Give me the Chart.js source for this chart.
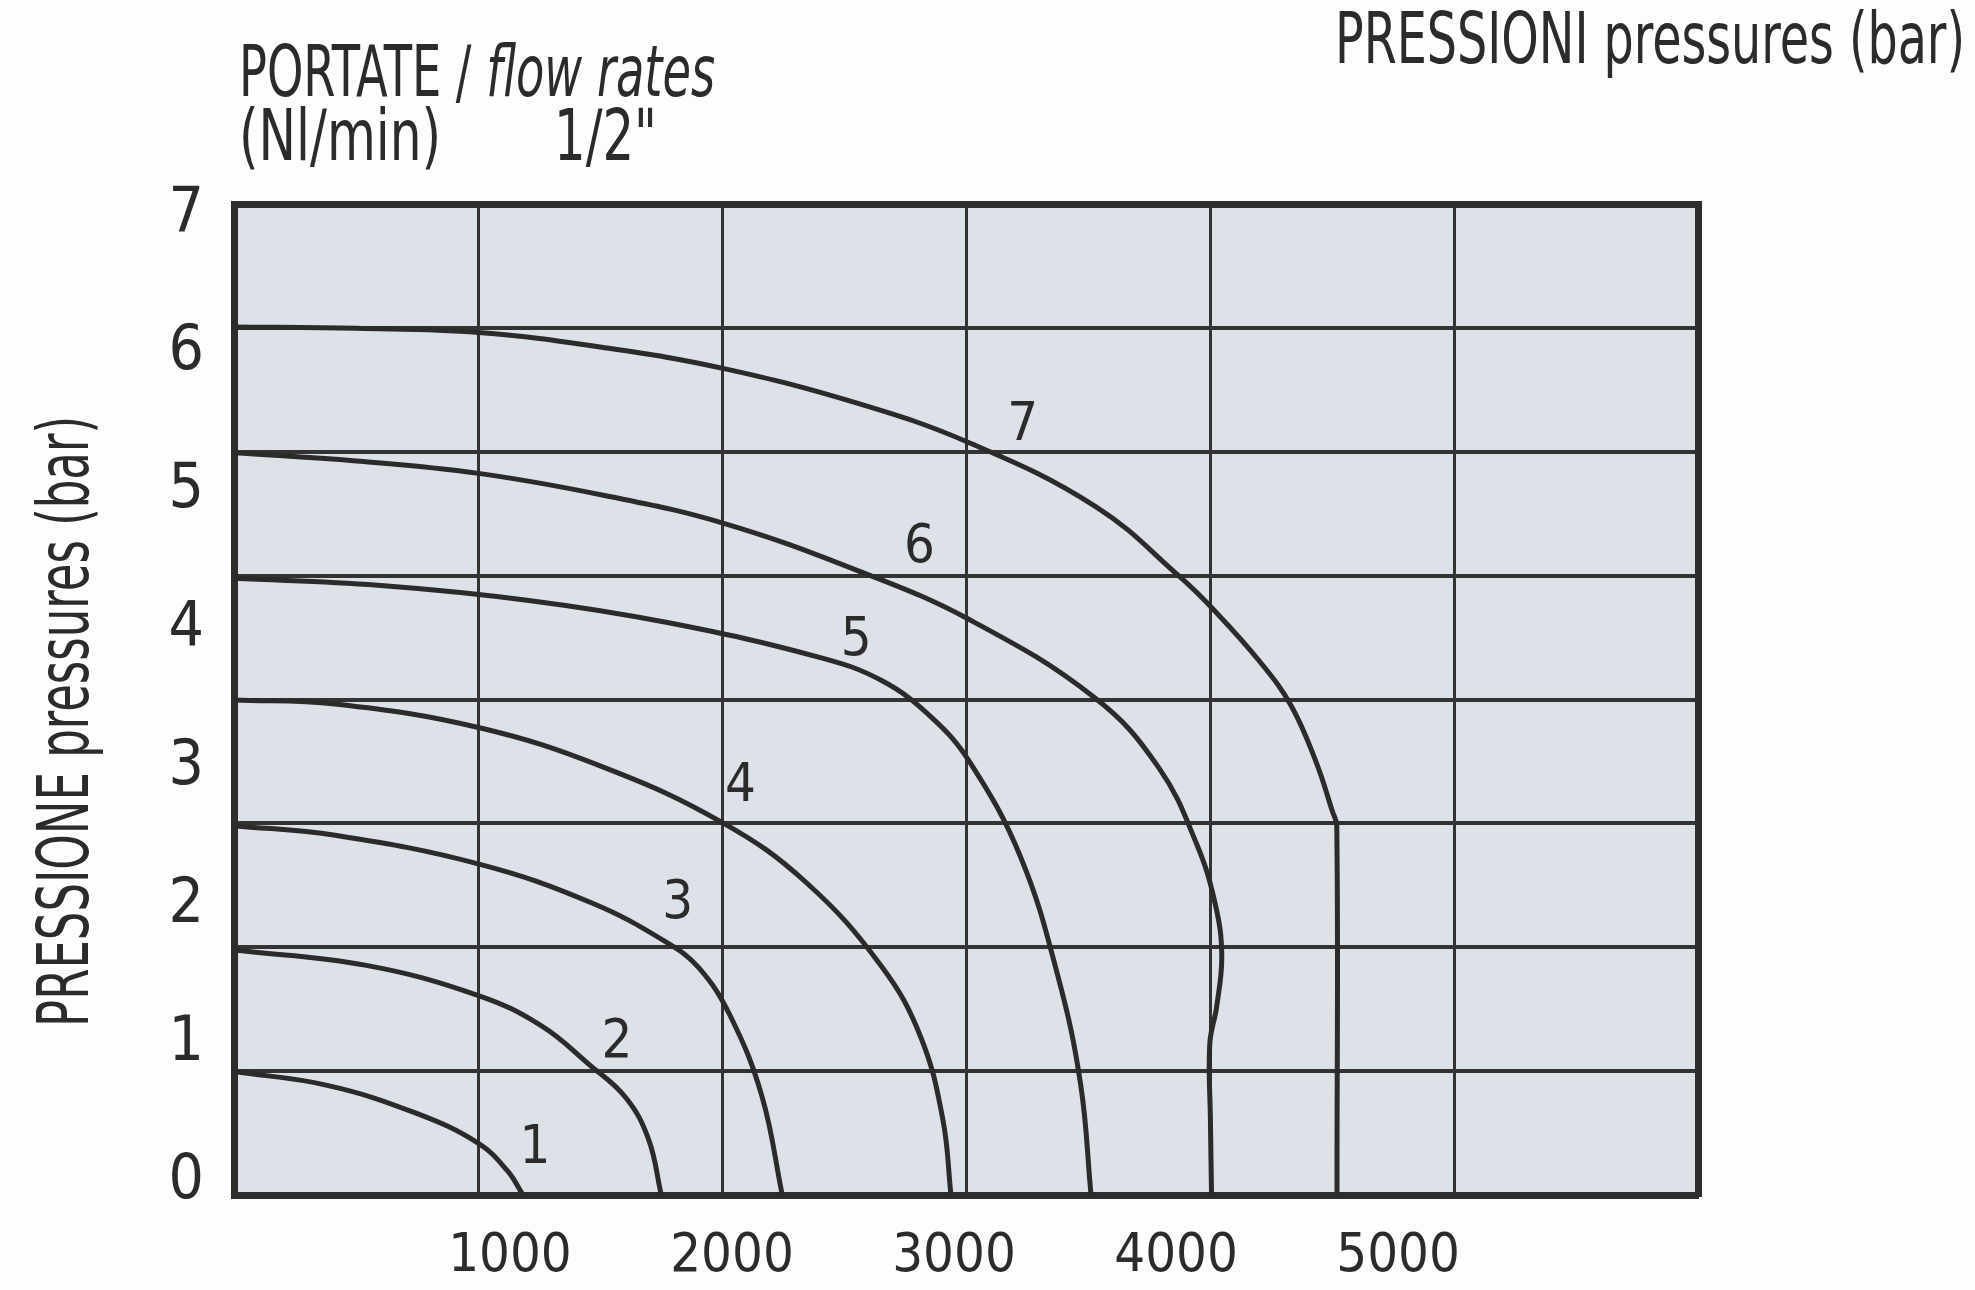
<!DOCTYPE html>
<html>
<head>
<meta charset="utf-8">
<title>PORTATE / flow rates 1/2"</title>
<script src="https://cdn.jsdelivr.net/npm/chart.js@4.4.1/dist/chart.umd.min.js"></script>
<style>
  html, body { margin: 0; padding: 0; background: #fdfdfd; }
  #wrap { position: relative; width: 1975px; height: 1290px; }
</style>
</head>
<body>
<div id="wrap"><canvas id="flowChart" width="1975" height="1290"></canvas></div>
<script>
// tick labels as printed on the sheet
const flowTicks = [1000, 2000, 3000, 4000, 5000];      // Nl/min
const pressureTicks = [0, 1, 2, 3, 4, 5, 6, 7];        // bar
const curveNames = ['1', '2', '3', '4', '5', '6', '7']; // inlet pressure (bar)

// curves: flow (Nl/min) -> outlet pressure (bar)
const flow1 = [-243, 177, 574, 858, 989, 1057];
const pres1 = [0.80, 0.70, 0.50, 0.28, 0.08, -0.09];

const flow2 = [-243, 347, 858, 1142, 1357, 1522, 1624, 1681];
const pres2 = [1.68, 1.57, 1.35, 1.13, 0.85, 0.61, 0.31, -0.09];

const flow3 = [-243, 212, 865, 1369, 1700, 1851, 1993, 2135, 2226];
const pres3 = [2.58, 2.51, 2.30, 2.02, 1.74, 1.55, 1.20, 0.62, -0.09];

const flow4 = [-243, 212, 858, 1426, 1959, 2333, 2674, 2850, 2950, 2986];
const pres4 = [3.49, 3.46, 3.29, 3.00, 2.60, 2.17, 1.56, 1.05, 0.45, -0.09];

const flow5 = [-243, 404, 1085, 1709, 2390, 2674, 2901, 3071, 3298, 3468, 3570, 3617];
const pres5 = [4.37, 4.32, 4.21, 4.05, 3.80, 3.63, 3.36, 3.04, 2.36, 1.49, 0.71, -0.09];

const flow6 = [-243, 308, 858, 1426, 1959, 2560, 3071, 3638, 3922, 4092, 4177, 4206, 4183, 4152, 4155, 4160];
const pres6 = [5.28, 5.22, 5.13, 4.97, 4.77, 4.43, 4.07, 3.50, 3.00, 2.45, 2.01, 1.64, 1.27, 1.00, 0.44, -0.09];

const flow7 = [-243, 308, 858, 1426, 1959, 2560, 3071, 3638, 4018, 4177, 4376, 4518, 4631, 4705, 4724, 4725];
const pres7 = [6.19, 6.18, 6.15, 6.04, 5.89, 5.64, 5.35, 4.89, 4.38, 4.13, 3.77, 3.45, 3.04, 2.68, 2.58, -0.09];

const flows = [flow1, flow2, flow3, flow4, flow5, flow6, flow7];
const pressures = [pres1, pres2, pres3, pres4, pres5, pres6, pres7];

// where the curve numbers sit (flow, pressure)
const nameFlow = [1113, 1482, 1755, 2038, 2560, 2844, 3309];
const namePres = [0.24, 1.01, 2.01, 2.86, 3.92, 4.59, 5.47];

const INK = '#2b2b2b';
const NARROW = "'Liberation Sans Narrow', 'DejaVu Sans Condensed', 'Liberation Sans', sans-serif";

// draw text squeezed to a given width (condensed catalogue lettering)
function drawFitted(ctx, pieces, x, y, width, size, angle) {
    let natural = 0;
    pieces.forEach(p => {
        ctx.font = (p.italic ? 'italic ' : '') + size + 'px ' + NARROW;
        natural += ctx.measureText(p.text).width;
    });
    ctx.save();
    ctx.translate(x, y);
    if (angle) ctx.rotate(angle);
    ctx.scale(width / natural, 1);
    ctx.fillStyle = INK;
    ctx.textBaseline = 'alphabetic';
    ctx.textAlign = 'left';
    let cx = 0;
    pieces.forEach(p => {
        ctx.font = (p.italic ? 'italic ' : '') + size + 'px ' + NARROW;
        ctx.fillText(p.text, cx, 0);
        cx += ctx.measureText(p.text).width;
    });
    ctx.restore();
}

const plotBackground = {
    id: 'plotBackground',
    beforeDraw(chart) {
        const {ctx, chartArea: a} = chart;
        ctx.save();
        ctx.fillStyle = '#dde2e8';
        ctx.fillRect(a.left, a.top, a.right - a.left, a.bottom - a.top);
        ctx.restore();
    }
};

const sheetTexts = {
    id: 'sheetTexts',
    afterDraw(chart) {
        const ctx = chart.ctx;
        drawFitted(ctx, [{text: 'PORTATE / '}, {text: 'flow rates', italic: true}], 239, 96, 476, 72);
        drawFitted(ctx, [{text: '(Nl/min)'}], 239, 160, 202, 72);
        drawFitted(ctx, [{text: '1/2"'}], 554, 160, 103, 72);
        drawFitted(ctx, [{text: 'PRESSIONI pressures (bar)'}], 1335, 63, 630, 72);
        drawFitted(ctx, [{text: 'PRESSIONE pressures (bar)'}], 88, 1027, 611, 72, -Math.PI / 2);
    }
};

const curveNumbers = {
    id: 'curveNumbers',
    afterDatasetsDraw(chart) {
        const {ctx, scales: {x, y}} = chart;
        ctx.save();
        ctx.fillStyle = INK;
        ctx.font = '54px ' + NARROW;
        ctx.textAlign = 'center';
        ctx.textBaseline = 'middle';
        curveNames.forEach((n, i) => {
            ctx.fillText(n, x.getPixelForValue(nameFlow[i]), y.getPixelForValue(namePres[i]));
        });
        ctx.restore();
    }
};

const datasets = curveNames.map((n, i) => ({
    label: n,
    data: flows[i].map((f, k) => ({x: f, y: pressures[i][k]})),
    borderColor: INK,
    borderWidth: 5,
    pointRadius: 0,
    tension: 0.4,
    fill: false,
    xAxisID: 'x',
    yAxisID: 'y'
}));

new Chart(document.getElementById('flowChart'), {
    type: 'line',
    data: { datasets: datasets },
    options: {
        responsive: false,
        animation: false,
        layout: { padding: 0 },
        plugins: { legend: { display: false }, tooltip: { enabled: false } },
        scales: {
            x: {
                type: 'linear', position: 'bottom', min: -243, max: 6351,
                afterBuildTicks: s => { s.ticks = flowTicks.map(v => ({value: v})); },
                afterFit: s => { s.height = 95; },
                grid: { display: false },
                border: { display: true, width: 7, color: '#2d2d2d' },
                ticks: { color: INK, font: { family: NARROW, size: 54 }, padding: 22, maxRotation: 0, autoSkip: false,
                         callback: v => String(v) }
            },
            y: {
                type: 'linear', position: 'left', min: -0.094, max: 7.08,
                afterBuildTicks: s => { s.ticks = pressureTicks.map(v => ({value: v})); },
                afterFit: s => { s.width = 234; },
                grid: { display: false },
                border: { display: true, width: 7, color: '#2d2d2d' },
                ticks: { color: INK, font: { family: NARROW, size: 62 }, padding: 22, autoSkip: false,
                         callback: v => String(v) }
            },
            xg: {
                type: 'linear', position: 'top', min: 0, max: 6,
                afterFit: s => { s.height = 204; },
                ticks: { display: false, stepSize: 1 },
                grid: { color: '#333', lineWidth: 3, drawTicks: false },
                border: { display: true, width: 7, color: '#2d2d2d' }
            },
            yg: {
                type: 'linear', position: 'right', min: 0, max: 8,
                afterFit: s => { s.width = 277; },
                ticks: { display: false, stepSize: 1 },
                grid: { color: '#333', lineWidth: 4, drawTicks: false },
                border: { display: true, width: 7, color: '#2d2d2d' }
            }
        }
    },
    plugins: [plotBackground, sheetTexts, curveNumbers]
});
</script>
</body>
</html>
